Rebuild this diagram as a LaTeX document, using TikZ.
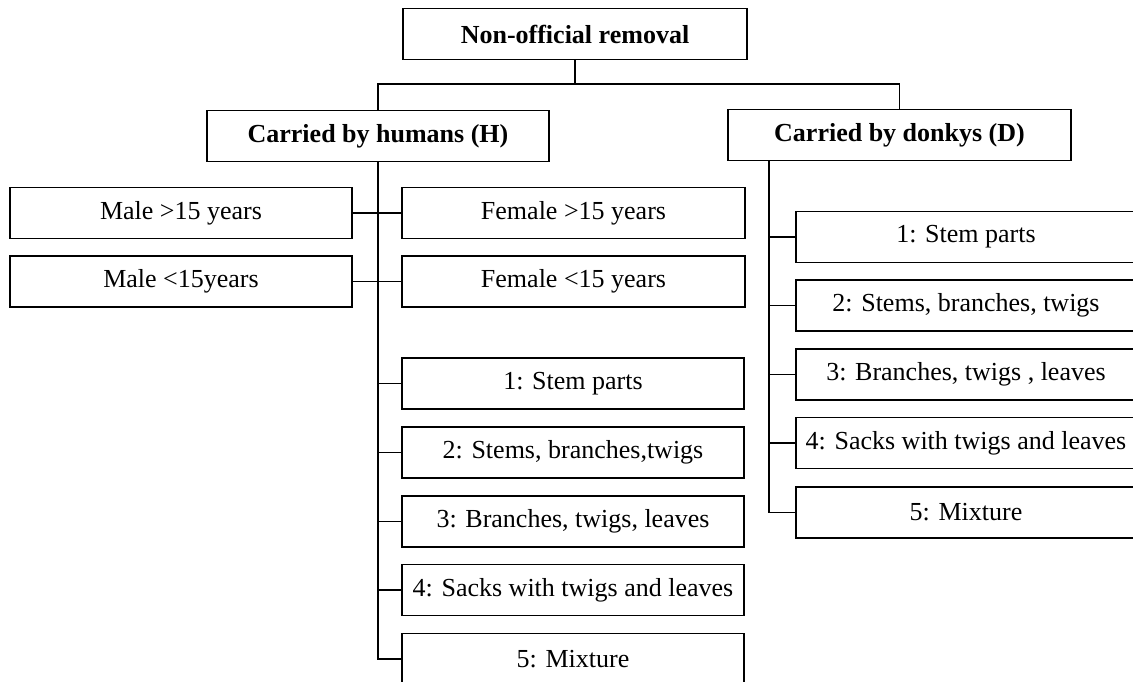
\documentclass[tikz,border=0pt]{standalone}
\usepackage{fontspec}
\setmainfont{Liberation Serif}
\begin{document}
\begin{tikzpicture}[x=1pt,y=-1pt,
  box/.style={draw,line width=1.8pt,rectangle,minimum height=51pt,inner sep=0pt,
    font=\fontsize{26}{30}\selectfont},
  bbox/.style={box,font=\fontsize{26}{30}\selectfont\bfseries},
  link/.style={line width=1.8pt}]
\clip (0,0) rectangle (1133,681);
\fill[white] (0,0) rectangle (1133,681);
% top
\node[bbox,minimum width=344pt] (top) at (575,34) {Non-official removal};
\node[bbox,minimum width=342pt] (H) at (378,136) {Carried by humans (H)};
\node[bbox,minimum width=343pt] (D) at (899.5,135) {Carried by donkys (D)};
% humans, gender/age
\node[box,minimum width=342pt] (M1) at (181,213) {Male >15 years};
\node[box,minimum width=342pt] (M2) at (181,281.5) {Male <15years};
\node[box,minimum width=343pt] (F1) at (573.5,213) {Female >15 years};
\node[box,minimum width=343pt] (F2) at (573.5,281.5) {Female <15 years};
% humans, loads
\node[box,minimum width=342pt] (L1) at (573,383.5) {1: Stem parts};
\node[box,minimum width=342pt] (L2) at (573,452.5) {2: Stems, branches,twigs};
\node[box,minimum width=342pt] (L3) at (573,521.5) {3: Branches, twigs, leaves};
\node[box,minimum width=342pt] (L4) at (573,590) {4: Sacks with twigs and leaves};
\node[box,minimum width=342pt] (L5) at (573,659) {5: Mixture};
% donkeys, loads
\node[box,minimum width=340pt] (R1) at (966,237) {1: Stem parts};
\node[box,minimum width=340pt] (R2) at (966,305.5) {2: Stems, branches, twigs};
\node[box,minimum width=340pt] (R3) at (966,374.5) {3: Branches, twigs , leaves};
\node[box,minimum width=340pt] (R4) at (966,443) {4: Sacks with twigs and leaves};
\node[box,minimum width=340pt] (R5) at (966,512.5) {5: Mixture};
% connectors
\coordinate (j) at (575,84);
\draw[link] (top.south) -- (j);
\draw[link] (j) -| (H.north);
\draw[link] (j) -| (D.north);
\draw[link] (H.south) |- (L5.west);
\draw[link] (M1.east) -- (F1.west);
\draw[link] (M2.east) -- (F2.west);
\foreach \n in {L1,L2,L3,L4}{\draw[link] (\n.west) -- (\n.west -| H.south);}
\coordinate (dv) at ([xshift=42pt]D.south west);
\draw[link] (dv) |- (R5.west);
\foreach \n in {R1,R2,R3,R4}{\draw[link] (\n.west) -- (\n.west -| dv);}
\end{tikzpicture}
\end{document}
